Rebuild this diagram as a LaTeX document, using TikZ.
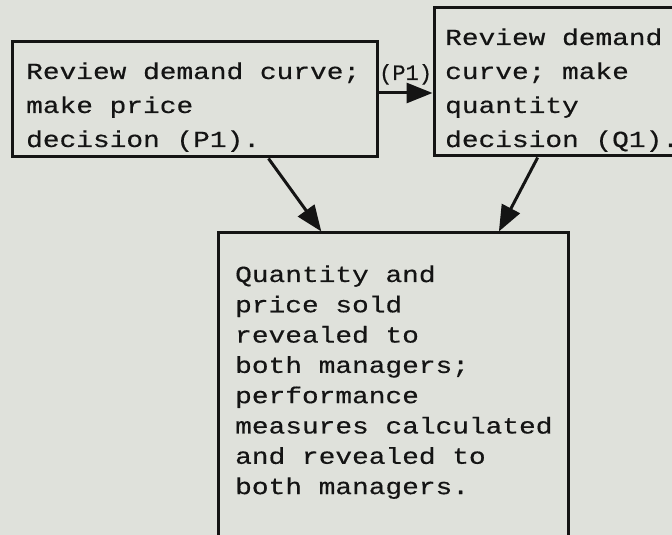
\documentclass[tikz,border=0pt]{standalone}
\usepackage{fontspec}
\usepackage{graphicx}
\newfontfamily\courfont[FakeBold=0.4]{Liberation Mono}
\usetikzlibrary{arrows.meta,calc}
\definecolor{bgpaper}{RGB}{223,225,219}
\definecolor{ink}{RGB}{20,20,20}
\newcommand{\boxlines}[2]{\scalebox{#1}[1]{\begin{tabular}[t]{@{}l@{}}#2\end{tabular}}}
\begin{document}
\begin{tikzpicture}[x=1pt,y=1pt,
  box/.style={draw=ink, line width=3pt, inner sep=0pt, rectangle},
  txt/.style={anchor=base west, inner sep=0pt, text=ink},
  topfont/.style={font=\courfont\fontsize{23}{34}\selectfont},
  botfont/.style={font=\courfont\fontsize{23}{30.3}\selectfont},
  conn/.style={draw=ink, line width=3pt, -{Triangle[length=26pt,width=20pt]}}]
\useasboundingbox (0,0) rectangle (672,535);
\clip (0,0) rectangle (672,535);
\fill[bgpaper] (0,0) rectangle (672,535);
% boxes
\node[box, minimum width=365pt, minimum height=115pt] (L) at (194.5,435.5) {};
\node[box, minimum width=266pt, minimum height=148pt] (R) at (567,453) {};
\node[box, minimum width=350pt, minimum height=332pt] (B) at (393,136) {};
% texts
\node[txt, topfont] (Lt) at (26,456)
  {\boxlines{1.21}{Review demand curve;\\make price\\decision (P1).}};
\node[txt, topfont] (Rt) at (445,490)
  {\boxlines{1.21}{Review demand\\curve; make\\quantity\\decision (Q1).}};
\node[txt, botfont] (Bt) at (235,253)
  {\boxlines{1.21}{Quantity and\\price sold\\revealed to\\both managers;\\performance\\measures calculated\\and revealed to\\both managers.}};
\node[txt, font=\courfont\fontsize{22}{24}\selectfont] (lab) at (379,455) {(P1)};
% connectors
\coordinate (hy) at (0,442);
\draw[conn] (L.east |- hy) -- (R.west |- hy);
\draw[conn] ($(L.south west)!0.701!(L.south east)$) -- ($(B.north west)!0.297!(B.north east)$);
\draw[conn] ($(R.south west)!0.391!(R.south east)$) -- ($(B.north west)!0.8!(B.north east)$);
\end{tikzpicture}
\end{document}
